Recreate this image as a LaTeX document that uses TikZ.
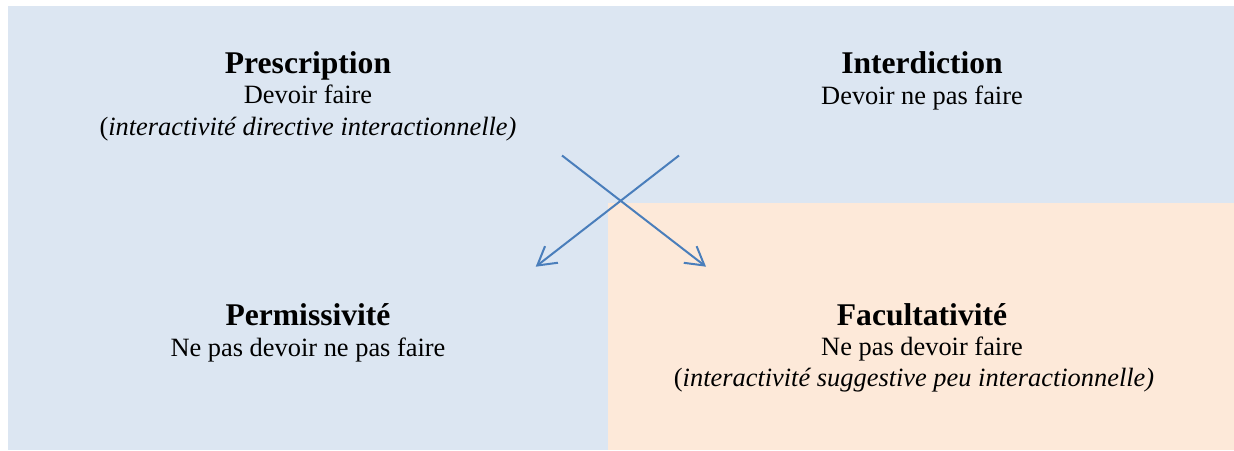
\documentclass[tikz,border=0pt]{standalone}
\usepackage{fontspec}
\setmainfont{Liberation Serif}
\usetikzlibrary{arrows.meta}

\definecolor{fondbleu}{HTML}{DCE6F2}
\definecolor{fondorange}{HTML}{FDE9D9}
\definecolor{fleche}{HTML}{4A7EBB}

\tikzset{
  titre/.style={anchor=base, inner sep=0pt, font=\fontsize{15.8}{19}\selectfont\bfseries},
  ligne/.style={anchor=base, inner sep=0pt, font=\fontsize{13.2}{16}\selectfont},
  croix/.style={draw=fleche, line width=1pt, -{Straight Barb[length=9pt,width=10.5pt]}}
}

\begin{document}
\begin{tikzpicture}[x=0.5pt,y=-0.5pt]
  \useasboundingbox (0,0) rectangle (1234,450);
  \fill[fondbleu] (8,6) rectangle (1234,450);
  \fill[fondorange] (607.5,203) rectangle (1234,450);
  % prescription
  \node[titre] (prescr) at (308,73.3) {Prescription};
  \node[ligne] (prescr1) at (308,103.5) {Devoir faire};
  \node[ligne] (prescr2) at (308,135) {(\textit{interactivité directive interactionnelle)}};
  % interdiction
  \node[titre] (interd) at (922,73.3) {Interdiction};
  \node[ligne] (interd1) at (922,104) {Devoir ne pas faire};
  % permissivite
  \node[titre] (permis) at (308,325) {Permissivité};
  \node[ligne] (permis1) at (308,356.5) {Ne pas devoir ne pas faire};
  % facultativite
  \node[titre] (facult) at (922,325) {Facultativité};
  \node[ligne] (facult1) at (922,355.5) {Ne pas devoir faire};
  \node[ligne] (facult2) at (914,386.5) {(\textit{interactivité suggestive peu interactionnelle)}};
  % croix
  \coordinate (hautg) at (562,155.5);
  \coordinate (hautd) at (679,155.5);
  \coordinate (basg) at (535.7,266.7);
  \coordinate (basd) at (706,266.7);
  \draw[croix] (hautg) -- (basd);
  \draw[croix] (hautd) -- (basg);
\end{tikzpicture}
\end{document}
